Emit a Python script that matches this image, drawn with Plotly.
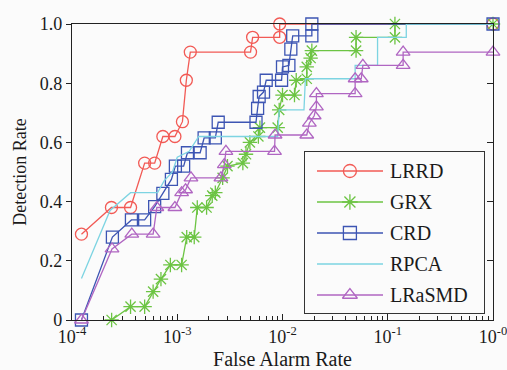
import plotly.graph_objects as go

# ROC curves: false alarm rate (log scale) vs detection rate
far_lrrd = [1.23e-4, 2.37e-4, 3.6e-4, 4.9e-4, 6.1e-4, 7.3e-4, 9.5e-4, 1.12e-3, 1.22e-3, 1.33e-3,
            4.97e-3, 5.2e-3, 9.4e-3, 9.4e-3, 1.0]
det_lrrd = [0.29, 0.38, 0.38, 0.53, 0.53, 0.62, 0.62, 0.67, 0.81, 0.905,
            0.905, 0.955, 0.955, 1.0, 1.0]

far_grx = [2.38e-4, 3.6e-4, 4.9e-4, 5.9e-4, 7.0e-4, 8.6e-4, 1.1e-3, 1.23e-3, 1.45e-3, 1.55e-3,
           1.9e-3, 2.15e-3, 2.3e-3, 2.7e-3, 3.0e-3, 4.2e-3, 4.5e-3, 4.9e-3, 5.9e-3, 6.1e-3,
           9.0e-3, 9.3e-3, 1.0e-2, 1.3e-2, 1.35e-2, 1.7e-2, 1.7e-2, 1.85e-2, 1.9e-2, 5.0e-2,
           5.0e-2, 0.117, 0.117, 1.0]
det_grx = [0.0, 0.045, 0.045, 0.096, 0.138, 0.186, 0.186, 0.28, 0.28, 0.38,
           0.38, 0.42, 0.43, 0.48, 0.52, 0.53, 0.56, 0.60, 0.62, 0.65,
           0.65, 0.71, 0.76, 0.76, 0.81, 0.815, 0.855, 0.885, 0.91, 0.91,
           0.955, 0.955, 1.0, 1.0]

far_crd = [1.23e-4, 2.42e-4, 3.67e-4, 4.9e-4, 6.1e-4, 7.3e-4, 8.8e-4, 9.6e-4, 1.15e-3, 1.25e-3,
           1.65e-3, 1.8e-3, 2.3e-3, 2.45e-3, 5.6e-3, 5.8e-3, 6.0e-3, 6.6e-3, 7.0e-3, 9.8e-3,
           1.0e-2, 1.15e-2, 1.2e-2, 1.25e-2, 1.9e-2, 1.9e-2, 1.0]
det_crd = [0.0, 0.28, 0.338, 0.338, 0.383, 0.428, 0.475, 0.52, 0.52, 0.565,
           0.565, 0.615, 0.615, 0.668, 0.668, 0.715, 0.755, 0.77, 0.81, 0.81,
           0.855, 0.86, 0.915, 0.96, 0.96, 1.0, 1.0]

far_rpca = [1.23e-4, 2.3e-4, 3.6e-4, 6.5e-4, 7.5e-4, 9.0e-4, 1.0e-3, 1.3e-3, 1.6e-3, 9.0e-3,
            9.3e-3, 1.6e-2, 1.65e-2, 4.9e-2, 4.9e-2, 8.0e-2, 8.0e-2, 0.15, 0.15, 1.0]
det_rpca = [0.14, 0.37, 0.43, 0.43, 0.47, 0.50, 0.55, 0.57, 0.62, 0.62,
            0.71, 0.71, 0.815, 0.815, 0.86, 0.86, 0.955, 0.955, 1.0, 1.0]

far_lrasmd = [1.23e-4, 2.4e-4, 3.7e-4, 5.9e-4, 6.4e-4, 9.5e-4, 1.1e-3, 1.2e-3, 1.35e-3, 2.6e-3,
              2.8e-3, 2.9e-3, 8.4e-3, 8.5e-3, 1.7e-2, 1.8e-2, 2.0e-2, 2.1e-2, 2.1e-2, 4.9e-2,
              4.9e-2, 5.6e-2, 5.8e-2, 0.14, 0.14, 1.0]
det_lrasmd = [0.0, 0.24, 0.29, 0.29, 0.38, 0.38, 0.43, 0.44, 0.48, 0.48,
              0.525, 0.57, 0.57, 0.625, 0.625, 0.665, 0.69, 0.72, 0.765, 0.765,
              0.815, 0.815, 0.86, 0.86, 0.905, 0.905]

method_names = ["LRRD", "GRX", "CRD", "RPCA", "LRaSMD"]

x_tickvals = [1e-4, 1e-3, 1e-2, 1e-1, 1e0]
x_ticktext = ["10<sup>-4</sup>", "10<sup>-3</sup>", "10<sup>-2</sup>", "10<sup>-1</sup>", "10<sup>-0</sup>"]
y_tickvals = [0, 0.2, 0.4, 0.6, 0.8, 1.0]
y_ticktext = ["0", "0.2", "0.4", "0.6", "0.8", "1.0"]

FONT = "'Times New Roman', 'Liberation Serif', 'DejaVu Serif', serif"
BG = "#fbfbfb"
INK = "#1a1a1a"

series_data = [
    (far_lrrd, det_lrrd),
    (far_grx, det_grx),
    (far_crd, det_crd),
    (far_rpca, det_rpca),
    (far_lrasmd, det_lrasmd),
]
styles = [
    ("#f25a55", "circle-open"),
    ("#6cc443", "asterisk-open"),
    ("#3d55b3", "square-open"),
    ("#7dd4e2", None),
    ("#b066c2", "triangle-up-open"),
]

fig = go.Figure()
for name, (xs, ys), (color, symbol) in zip(method_names, series_data, styles):
    fig.add_trace(go.Scatter(
        x=xs, y=ys, name=name, showlegend=False,
        mode="lines+markers" if symbol else "lines",
        line=dict(color=color, width=1.3),
        marker=dict(symbol=symbol or "circle", size=12, color=color,
                    line=dict(color=color, width=1.3)),
        cliponaxis=False,
    ))

# empty trace so the right-hand tick axis gets drawn
fig.add_trace(go.Scatter(x=[None], y=[None], yaxis="y2", showlegend=False, hoverinfo="skip"))

# key box: an inset subplot with long line samples, a marker in the middle and a label
n = len(method_names)
row_y = [0.118 + 0.1925 * i for i in range(n)]
for name, yy, (color, symbol) in zip(method_names, row_y, styles):
    fig.add_trace(go.Scatter(
        x=[0.067, 0.436], y=[yy, yy], xaxis="x3", yaxis="y3",
        mode="lines", line=dict(color=color, width=1.3),
        showlegend=False, hoverinfo="skip",
    ))
    if symbol:
        fig.add_trace(go.Scatter(
            x=[0.251], y=[yy], xaxis="x3", yaxis="y3", mode="markers",
            marker=dict(symbol=symbol, size=13, color=color, line=dict(color=color, width=1.3)),
            showlegend=False, hoverinfo="skip", cliponaxis=False,
        ))
    fig.add_annotation(
        x=0.466, y=yy, xref="x3", yref="y3", text=name, showarrow=False,
        xanchor="left", yanchor="middle",
        font=dict(family=FONT, size=20, color=INK),
    )

fig.update_layout(
    width=507, height=370,
    margin=dict(l=72, r=14, t=24, b=50),
    paper_bgcolor=BG, plot_bgcolor=BG,
    font=dict(family=FONT, size=18, color=INK),
    showlegend=False,
    xaxis=dict(
        type="log", range=[-4, 0], automargin=False,
        tickvals=x_tickvals, ticktext=x_ticktext,
        ticks="inside", ticklen=6, tickcolor="#222",
        ticklabeloverflow="allow",
        tickfont=dict(family=FONT, size=18, color=INK),
        minor=dict(ticks="inside", ticklen=4, dtick="D1", tickcolor="#222", showgrid=False),
        showline=True, linecolor="#222", linewidth=1.2, mirror=True,
        showgrid=False, zeroline=False,
        title=dict(text="False Alarm Rate", font=dict(family=FONT, size=20, color=INK), standoff=8),
    ),
    yaxis=dict(
        range=[0, 1], automargin=False,
        tickvals=y_tickvals, ticktext=y_ticktext,
        ticks="outside", ticklen=5, tickcolor="#222",
        tickfont=dict(family=FONT, size=18, color=INK),
        showline=True, linecolor="#222", linewidth=1.2, mirror=True,
        showgrid=False, zeroline=False,
        title=dict(text="Detection Rate", font=dict(family=FONT, size=18, color=INK), standoff=8),
    ),
    yaxis2=dict(
        overlaying="y", side="right", range=[0, 1], automargin=False,
        tickvals=[0.2, 0.4, 0.6, 0.8],
        ticks="inside", ticklen=6, tickwidth=1.2, tickcolor="#222",
        showticklabels=False, showline=False, showgrid=False, zeroline=False,
    ),
    xaxis3=dict(
        domain=[0.5534, 0.9786], range=[0, 1], anchor="y3",
        showline=True, mirror=True, linecolor="#333", linewidth=1.2,
        showticklabels=False, ticks="", showgrid=False, zeroline=False, fixedrange=True,
    ),
    yaxis3=dict(
        domain=[0.0236, 0.5676], range=[1, 0], anchor="x3",
        showline=True, mirror=True, linecolor="#333", linewidth=1.2,
        showticklabels=False, ticks="", showgrid=False, zeroline=False, fixedrange=True,
    ),
)

fig.write_html("out.html")
